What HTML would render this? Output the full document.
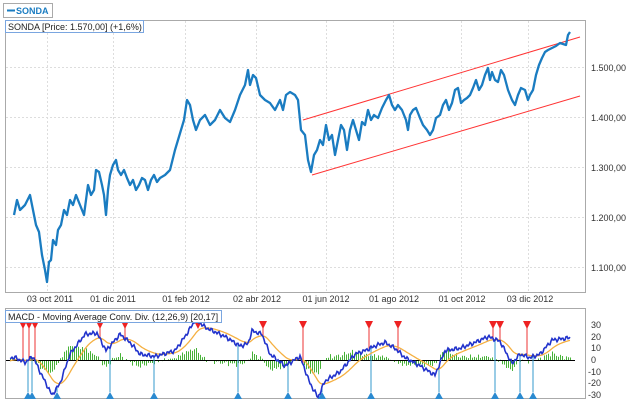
<!DOCTYPE html>
<html><head><meta charset="utf-8"><style>
body{margin:0;background:#fff;width:640px;height:403px;overflow:hidden}
svg{display:block;font-family:"Liberation Sans",sans-serif}
</style></head><body>
<svg id="s" width="640" height="403" viewBox="0 0 640 403" xmlns="http://www.w3.org/2000/svg">
<rect x="0" y="0" width="640" height="403" fill="#fff"/>
<rect x="5.5" y="20.5" width="580" height="272" fill="#fff" stroke="#aaa"/>
<g stroke="#ddd" stroke-dasharray="2,2">
<line x1="6" x2="585" y1="67.5" y2="67.5"/><line x1="6" x2="585" y1="117.5" y2="117.5"/>
<line x1="6" x2="585" y1="167.5" y2="167.5"/><line x1="6" x2="585" y1="217.5" y2="217.5"/>
<line x1="6" x2="585" y1="267.5" y2="267.5"/>
<line x1="47.5" x2="47.5" y1="21" y2="292"/><line x1="113.5" x2="113.5" y1="21" y2="292"/>
<line x1="185.5" x2="185.5" y1="21" y2="292"/><line x1="256.5" x2="256.5" y1="21" y2="292"/>
<line x1="326.5" x2="326.5" y1="21" y2="292"/><line x1="393.5" x2="393.5" y1="21" y2="292"/>
<line x1="461.5" x2="461.5" y1="21" y2="292"/><line x1="528.5" x2="528.5" y1="21" y2="292"/>
</g>
<g font-size="9" fill="#333">
<text x="591" y="71">1.500,00</text><text x="591" y="121">1.400,00</text>
<text x="591" y="171">1.300,00</text><text x="591" y="221">1.200,00</text>
<text x="591" y="271">1.100,00</text>
<g text-anchor="middle">
<text x="50" y="302">03 oct 2011</text><text x="113" y="302">01 dic 2011</text>
<text x="186" y="302">01 feb 2012</text><text x="257" y="302">02 abr 2012</text>
<text x="326" y="302">01 jun 2012</text><text x="394" y="302">01 ago 2012</text>
<text x="462" y="302">01 oct 2012</text><text x="530" y="302">03 dic 2012</text>
</g></g>
<line x1="303" y1="120" x2="580" y2="37" stroke="#f33" stroke-width="1"/>
<line x1="312" y1="175" x2="580" y2="96" stroke="#f33" stroke-width="1"/>
<polyline fill="none" stroke="#1a7cc1" stroke-width="2.3" stroke-linejoin="round" points="14,215 17,200 20,210 25,205 30,195 33,210 36,225 39,232 42,255 45,270 47,282 49,262 51,260 53,240 56,245 58,230 61,225 64,210 67,215 70,200 73,205 76,195 80,205 84,215 88,185 91,195 94,190 96,170 99,172 102,185 104,195 106,215 108,190 110,175 113,165 116,160 118,170 121,175 124,170 127,178 130,185 133,180 136,190 139,185 142,178 145,180 148,190 151,180 154,175 157,182 160,178 165,175 170,170 175,150 178,140 181,130 184,120 187,100 190,105 193,120 196,130 200,120 205,115 210,125 215,120 220,110 225,118 230,122 235,110 240,95 245,85 248,70 250,85 253,75 256,78 260,95 265,100 270,103 275,110 280,100 283,110 286,95 290,92 295,95 298,100 301,130 305,135 308,160 311,172 314,155 317,150 320,140 323,145 326,125 329,140 332,135 335,155 338,140 341,125 344,130 347,150 350,130 353,120 356,130 359,140 362,122 365,125 368,110 371,120 374,115 378,118 382,108 386,100 389,95 392,105 395,110 398,105 402,110 406,120 408,130 410,115 413,110 416,108 420,118 423,125 427,130 430,135 433,130 436,118 440,115 443,105 446,100 449,110 452,103 455,90 458,88 461,103 464,100 467,98 470,95 473,88 476,80 479,90 482,85 485,75 488,68 490,80 492,72 495,80 498,82 501,70 504,75 508,90 512,100 515,105 518,95 521,88 525,90 528,100 530,95 533,90 536,75 539,65 542,58 545,52 548,50 552,48 556,46 560,43 563,44 566,45 568,35 570,32"/>
<rect x="3.5" y="3.5" width="49" height="14" fill="#fff" stroke="#aaa"/>
<line x1="7" y1="10.5" x2="15" y2="10.5" stroke="#1a7cc1" stroke-width="2"/>
<text x="16" y="14" font-size="9" font-weight="bold" fill="#1a7cc1">SONDA</text>
<rect x="5.5" y="20.5" width="138" height="12" fill="#fff" stroke="#7aa6e0"/>
<text x="8" y="30" font-size="9" fill="#222">SONDA [Price: 1.570,00] (+1,6%)</text>
<rect x="5.5" y="308.5" width="580" height="90" fill="#fff" stroke="#aaa"/>
<g id="macd"></g>
<g font-size="9" fill="#333">
<text x="591" y="328">30</text><text x="591" y="340">20</text><text x="591" y="351">10</text>
<text x="591" y="363">0</text><text x="588" y="375">-10</text><text x="588" y="386">-20</text>
<text x="588" y="398">-30</text></g>
<rect x="5.5" y="310.5" width="216" height="12" fill="#fff" stroke="#7aa6e0"/>
<text x="8" y="320" font-size="9" fill="#222">MACD - Moving Average Conv. Div. (12,26,9) [20,17]</text>
</svg>
<script>
var pts=[[6,2],[15,2],[25,-2],[33,3],[40,-10],[52,-30],[60,-20],[70,5],[85,22],[97,23],[106,8],[120,22],[130,15],[140,5],[155,3],[175,8],[185,20],[196,35],[205,28],[225,20],[240,12],[248,14],[252,25],[262,22],[270,5],[285,-5],[300,3],[310,-20],[318,-32],[325,-18],[340,-10],[355,5],[365,8],[375,12],[385,15],[395,10],[405,2],[420,-5],[435,-13],[445,8],[460,10],[475,15],[488,20],[500,16],[512,-3],[520,5],[530,2],[540,5],[552,17],[570,19]];
function f(x){for(var i=0;i<pts.length-1;i++){if(x<=pts[i+1][0]){var a=pts[i],b=pts[i+1];return a[1]+(b[1]-a[1])*(x-a[0])/(b[0]-a[0]);}}return pts[pts.length-1][1];}
function fj(x){return f(x)+1.2*Math.sin(x*1.7)+0.8*Math.sin(x*0.9);}
var Y=function(v){return 360-v*1.17;};
var m=[],s=[],sig=f(10)-3;
for(var x=10;x<=570;x++){var v=fj(x);sig+=(f(x)-sig)*0.09;m.push([x,v]);s.push([x,sig]);}
var g=document.getElementById('macd'),h='';
for(var i=0;i<m.length;i+=2){var d=(m[i][1]-s[i][1])*0.8+0.8*Math.sin(i*2.3);h+='<line x1="'+(m[i][0]+0.5)+'" x2="'+(m[i][0]+0.5)+'" y1="360" y2="'+Y(d)+'" stroke="#33aa22" stroke-width="0.9"/>';}
h+='<line x1="6" x2="575" y1="360.5" y2="360.5" stroke="#000"/>';
var red=[23,29,35,100,125,198,263,303,369,398,493,500,527],blue=[28,32,57,110,154,238,288,322,371,439,495,520,533];
red.forEach(function(x){h+='<line x1="'+x+'" x2="'+x+'" y1="326" y2="'+Y(f(x))+'" stroke="#e33"/><path d="M'+(x-4)+' 321 L'+(x+4)+' 321 L'+x+' 329Z" fill="#e22"/>';});
blue.forEach(function(x){h+='<line x1="'+x+'" x2="'+x+'" y1="'+Y(f(x))+'" y2="392" stroke="#39c"/><path d="M'+(x-4)+' 399 L'+(x+4)+' 399 L'+x+' 392Z" fill="#2a8ad0"/>';});
h+='<polyline fill="none" stroke="#f5b041" stroke-width="1.3" points="'+s.map(function(p){return p[0]+','+Y(p[1]).toFixed(1)}).join(' ')+'"/>';
h+='<polyline fill="none" stroke="#2233cc" stroke-width="1.6" points="'+m.map(function(p){return p[0]+','+Y(p[1]).toFixed(1)}).join(' ')+'"/>';
g.innerHTML=h;
</script>
</body></html>
